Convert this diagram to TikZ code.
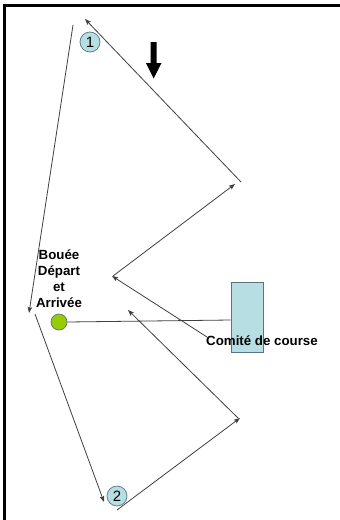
\documentclass[tikz,border=0pt]{standalone}
\usepackage{fontspec}
\setmainfont{Liberation Sans}
\usetikzlibrary{arrows.meta}
\definecolor{buoyblue}{HTML}{B7DFE3}
\definecolor{buoyedge}{HTML}{5A7480}
\definecolor{buoygreen}{HTML}{99CC00}
\definecolor{lineg}{HTML}{404040}
\tikzset{
  leg/.style={draw=lineg, line width=0.8pt, -{Stealth[length=6pt,width=4.5pt,inset=1pt]}},
  plainleg/.style={draw=lineg, line width=0.8pt},
  markc/.style={circle, draw=buoyedge, fill=buoyblue, line width=0.7pt, minimum size=20pt, inner sep=0pt, font=\fontsize{15}{15}\selectfont},
  lbl/.style={font=\bfseries\fontsize{13.3}{16}\selectfont, align=center, inner sep=0pt},
}
\begin{document}
\begin{tikzpicture}[x=1pt,y=-1pt]
\useasboundingbox (0,0) rectangle (340,520);
\fill[white] (0,0) rectangle (340,520);
% frame
\draw[black, line width=2.5pt] (4.7,530) -- (4.7,5.3) -- (350,5.3);
% wind arrow
\fill[black] (150.7,42) -- (156.7,42) -- (156.7,63) -- (161.5,63) -- (153.7,78.5) -- (146,63) -- (150.7,63) -- cycle;
% marks
\node[markc] (m1) at (90,42) {1};
\node[markc] (m2) at (117,496) {2};
\node[circle, draw=buoyedge, fill=buoygreen, line width=0.7pt, minimum size=16pt, inner sep=0pt] (buoy) at (59,322) {};
\node[draw=buoyedge, fill=buoyblue, line width=0.7pt, minimum width=32pt, minimum height=70pt, inner sep=0pt] (cte) at (247,317) {};
\node[lbl] (buoyL) at (59,279) {Bouée\\Départ\\et\\Arrivée};
% course points
\coordinate (a1) at (241,182);
\coordinate (a2) at (85,19);
\coordinate (b1) at (73,25);
\coordinate (b2) at (29,313);
\coordinate (c1) at (35,314);
\coordinate (c2) at (104,502);
\coordinate (d1) at (117,510);
\coordinate (d2) at (240,418);
\coordinate (e1) at (238,418);
\coordinate (e2) at (128,310);
\coordinate (f1) at (207,337);
\coordinate (f2) at (112,276);
\coordinate (g1) at (113,276);
\coordinate (g2) at (235,184);
\draw[leg] (a1) -- (a2);
\draw[leg] (b1) -- (b2);
\draw[leg] (c1) -- (c2);
\draw[leg] (d1) -- (d2);
\draw[leg] (e1) -- (e2);
\draw[leg] (f1) -- (f2);
\draw[leg] (g1) -- (g2);
\draw[plainleg] (buoy.east) -- (cte.west |- 0,320);
\node[lbl] (cteL) at (262,341) {Comité de course};
\end{tikzpicture}
\end{document}
